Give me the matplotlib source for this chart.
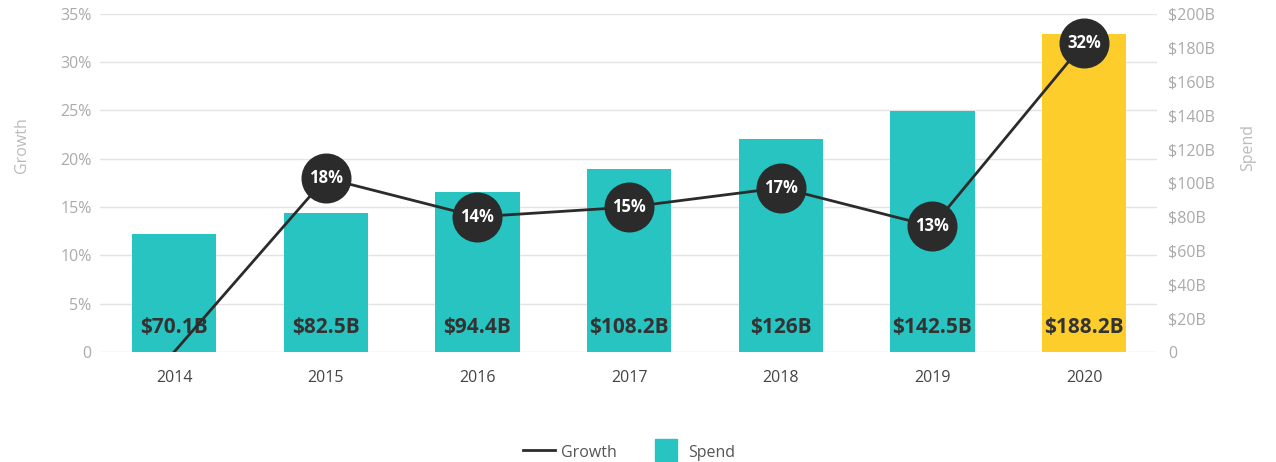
import matplotlib.pyplot as plt
from matplotlib.lines import Line2D

# Donnees
years = ['2014', '2015', '2016', '2017', '2018', '2019', '2020']
spend = [70.1, 82.5, 94.4, 108.2, 126, 142.5, 188.2]          # milliards $
growth = [0, 18, 14, 15, 17, 13, 32]                           # %
spend_labels = ['$70.1B', '$82.5B', '$94.4B', '$108.2B', '$126B', '$142.5B', '$188.2B']
growth_labels = [None, '18%', '14%', '15%', '17%', '13%', '32%']

teal = '#27C4C1'
yellow = '#FDCE2B'
dark = '#2B2B2B'
grey = '#AAAAAA'

plt.rcParams['font.family'] = ['Open Sans', 'DejaVu Sans']

fig = plt.figure(figsize=(12.76, 4.62), dpi=100)
ax_g = fig.add_axes([0.0784, 0.238, 0.8283, 0.732])   # axe Growth (gauche) + grille
ax_s = ax_g.twinx()                                     # axe Spend (droite), barres
ax_l = ax_g.twinx()                                     # ligne au premier plan

x = range(len(years))
colors = [teal] * (len(years) - 1) + [yellow]

ax_g.set_zorder(0)
ax_s.set_zorder(1)
ax_l.set_zorder(2)
ax_s.patch.set_visible(False)
ax_l.patch.set_visible(False)

# barres sur l'axe de droite
ax_s.bar(x, spend, width=0.555, color=colors, zorder=2)

ax_s.set_ylim(0, 200)
ax_s.set_yticks(range(0, 201, 20))
ax_s.set_yticklabels(['0'] + ['$%dB' % v for v in range(20, 201, 20)])

# ligne de croissance
ax_l.plot(x, growth, color=dark, linewidth=2, zorder=3)
for i, (g, lab) in enumerate(zip(growth, growth_labels)):
    if lab is None:
        continue
    ax_l.plot(i, g, 'o', markersize=35, color=dark, zorder=4)
    ax_l.text(i, g, lab, ha='center', va='center', color='white',
              fontsize=12, fontweight='bold', zorder=5)
ax_l.set_ylim(0, 35)
ax_l.set_yticks([])

# etiquettes des barres
for i, lab in enumerate(spend_labels):
    ax_l.annotate(lab, (i, 0), xytext=(0, 18), textcoords='offset points',
                  ha='center', va='center', fontsize=15, fontweight='bold',
                  color='#333333', zorder=2)

ax_g.set_ylim(0, 35)
ax_g.set_yticks(range(0, 36, 5))
ax_g.set_yticklabels(['0'] + ['%d%%' % v for v in range(5, 36, 5)])
ax_g.set_xlim(-0.488, 6.48)
ax_g.set_xticks(list(x))
ax_g.set_xticklabels(years)

# grille et style
ax_g.grid(axis='y', color='#E3E3E3', linewidth=1)
for a in (ax_g, ax_s, ax_l):
    for s in a.spines.values():
        s.set_visible(False)
    a.tick_params(length=0, labelsize=11.5, labelcolor=grey)
ax_g.tick_params(axis='y', pad=6)
ax_s.tick_params(axis='y', pad=8)
ax_g.tick_params(axis='x', labelcolor='#444444', pad=13)

ax_g.set_ylabel('Growth', color='#BBBBBB', fontsize=11.5)
ax_g.yaxis.set_label_coords(-0.066, 0.612)
ax_s.set_ylabel('Spend', color='#BBBBBB', fontsize=11.5, rotation=90)
ax_s.yaxis.set_label_coords(1.079, 0.605)

# legende en bas
handles = [Line2D([0], [0], color=dark, linewidth=2),
           Line2D([0], [0], marker='s', linestyle='none', markersize=16,
                  color=teal)]
fig.legend(handles, ['Growth', 'Spend'], loc='lower center', ncol=2,
           bbox_to_anchor=(0.493, -0.03), frameon=False, fontsize=11.5,
           labelcolor='#555555', handlelength=2.0, handleheight=1.5,
           handletextpad=0.4, columnspacing=2.1)

fig.savefig('out.png', dpi=100)
